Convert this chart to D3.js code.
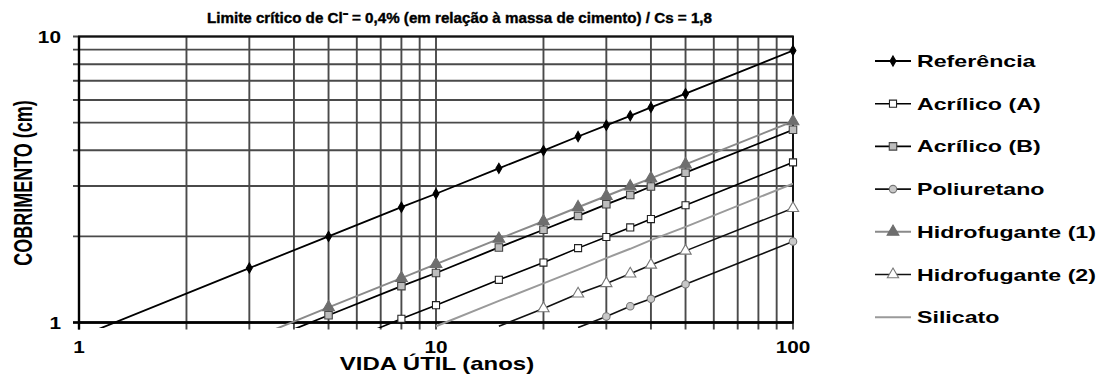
<!DOCTYPE html>
<html>
<head>
<meta charset="utf-8">
<script src="https://cdn.jsdelivr.net/npm/d3@7"></script>
<style>
  body { margin: 0; background: #fff; }
  text { font-family: "Liberation Sans", Arial, sans-serif; font-weight: bold; fill: #000; }
</style>
</head>
<body>
<div id="chart"></div>
<script>
// chart values
var titleText = "Limite crítico de Cl\u207B = 0,4% (em relação à massa de cimento) / Cs = 1,8";
var xLabel = "VIDA ÚTIL (anos)";
var yLabel = "COBRIMENTO (cm)";
var xTickLabels = [1, 10, 100];
var yTickLabels = [1, 10];

var seriesNames = ["Referência", "Acrílico (A)", "Acrílico (B)", "Poliuretano",
  "Hidrofugante (1)", "Hidrofugante (2)", "Silicato"];

var refYears = [1, 3, 5, 8, 10, 15, 20, 25, 30, 35, 40, 50, 100];
var refValues = [0.89, 1.55, 2.0, 2.53, 2.82, 3.46, 3.99, 4.47, 4.89, 5.28, 5.65, 6.31, 8.93];

var acrAYears = [5, 8, 10, 15, 20, 25, 30, 35, 40, 50, 100];
var acrAValues = [0.81, 1.03, 1.15, 1.41, 1.62, 1.82, 1.99, 2.15, 2.30, 2.57, 3.63];

var acrBYears = [3, 5, 8, 10, 15, 20, 25, 30, 35, 40, 50, 100];
var acrBValues = [0.82, 1.06, 1.34, 1.49, 1.83, 2.11, 2.36, 2.59, 2.79, 2.99, 3.34, 4.72];

var poliYears = [25, 30, 35, 40, 50, 100];
var poliValues = [0.96, 1.05, 1.14, 1.21, 1.36, 1.92];

var hidro1Years = [3, 5, 8, 10, 15, 20, 25, 30, 35, 40, 50, 100];
var hidro1Values = [0.87, 1.13, 1.43, 1.60, 1.96, 2.26, 2.53, 2.77, 2.99, 3.19, 3.57, 5.05];

var hidro2Years = [15, 20, 25, 30, 35, 40, 50, 100];
var hidro2Values = [0.97, 1.12, 1.26, 1.37, 1.48, 1.59, 1.78, 2.51];

var silYears = [10, 15, 20, 25, 30, 35, 40, 50, 100];
var silValues = [0.97, 1.19, 1.37, 1.53, 1.68, 1.81, 1.94, 2.16, 3.06];

// look of each series
var styles = [
  {line: "#000", width: 1.8, symbol: d3.symbolDiamond, size: 30, fill: "#000", stroke: "#000"},
  {line: "#000", width: 1.6, symbol: d3.symbolSquare, size: 50, fill: "#fff", stroke: "#222"},
  {line: "#000", width: 1.8, symbol: d3.symbolSquare, size: 56, fill: "#bdbdbd", stroke: "#444"},
  {line: "#111", width: 1.6, symbol: d3.symbolCircle, size: 44, fill: "#c8c8c8", stroke: "#777"},
  {line: "#8a8a8a", width: 2, symbol: d3.symbolTriangle, size: 60, fill: "#6e6e6e", stroke: "#6e6e6e"},
  {line: "#111", width: 1.6, symbol: d3.symbolTriangle, size: 55, fill: "#fff", stroke: "#777"},
  {line: "#9a9a9a", width: 2, symbol: null}
];

var series = [
  [refYears, refValues], [acrAYears, acrAValues], [acrBYears, acrBValues], [poliYears, poliValues],
  [hidro1Years, hidro1Values], [hidro2Years, hidro2Values], [silYears, silValues]
].map(function(s, i) {
  return {
    name: seriesNames[i],
    style: styles[i],
    points: s[0].map(function(t, j) { return {t: t, c: s[1][j]}; })
  };
});

var svgWidth = 1105;
var svgHeight = 375;
var plot = {left: 79, right: 793, top: 36.5, bottom: 322.5};

var svg = d3.select("#chart")
  .append("svg")
  .attr("width", svgWidth)
  .attr("height", svgHeight);

var xScale = d3.scaleLog().domain([1, 100]).range([plot.left, plot.right]);
var yScale = d3.scaleLog().domain([1, 10]).range([plot.bottom, plot.top]);

// grid lines, sticking out a little past the axes like tick marks
svg.append("g")
  .selectAll("line")
  .data(xScale.ticks())
  .enter()
  .append("line")
  .attr("x1", d => xScale(d))
  .attr("x2", d => xScale(d))
  .attr("y1", plot.top)
  .attr("y2", plot.bottom + 7)
  .attr("stroke", "#4a4a4a")
  .attr("stroke-width", 1.9);

svg.append("g")
  .selectAll("line")
  .data(yScale.ticks())
  .enter()
  .append("line")
  .attr("y1", d => yScale(d))
  .attr("y2", d => yScale(d))
  .attr("x1", plot.left - 6)
  .attr("x2", plot.right)
  .attr("stroke", "#4a4a4a")
  .attr("stroke-width", 1.9);

// plot frame
svg.append("rect")
  .attr("x", plot.left)
  .attr("y", plot.top)
  .attr("width", plot.right - plot.left)
  .attr("height", plot.bottom - plot.top)
  .attr("fill", "none")
  .attr("stroke", "#111")
  .attr("stroke-width", 2);

svg.append("line")
  .attr("x1", plot.left - 6).attr("x2", plot.right)
  .attr("y1", plot.bottom).attr("y2", plot.bottom)
  .attr("stroke", "#000").attr("stroke-width", 2.4);
svg.append("line")
  .attr("x1", plot.left).attr("x2", plot.left)
  .attr("y1", plot.top).attr("y2", plot.bottom + 7)
  .attr("stroke", "#000").attr("stroke-width", 2.4);

// clips: lines may run a few px under the bottom axis
var defs = svg.append("defs");
defs.append("clipPath").attr("id", "lineClip")
  .append("rect")
  .attr("x", plot.left).attr("y", plot.top)
  .attr("width", plot.right - plot.left)
  .attr("height", plot.bottom - plot.top + 5.5);
defs.append("clipPath").attr("id", "markClip")
  .append("rect")
  .attr("x", plot.left - 10).attr("y", plot.top - 10)
  .attr("width", plot.right - plot.left + 20)
  .attr("height", plot.bottom - plot.top + 14);

var line = d3.line()
  .x(d => xScale(d.t))
  .y(d => yScale(d.c));

var lineGroup = svg.append("g").attr("clip-path", "url(#lineClip)");
lineGroup.selectAll("path")
  .data(series)
  .enter()
  .append("path")
  .attr("d", d => line(d.points))
  .attr("fill", "none")
  .attr("stroke", d => d.style.line)
  .attr("stroke-width", d => d.style.width);

var markGroup = svg.append("g").attr("clip-path", "url(#markClip)");
series.forEach(function(s) {
  if (!s.style.symbol) return;
  var sym = d3.symbol().type(s.style.symbol).size(s.style.size);
  markGroup.append("g")
    .selectAll("path")
    .data(s.points.filter(p => p.c >= 1))
    .enter()
    .append("path")
    .attr("d", sym)
    .attr("transform", p => `translate(${xScale(p.t)},${yScale(p.c)})`)
    .attr("fill", s.style.fill)
    .attr("stroke", s.style.stroke)
    .attr("stroke-width", 1.1);
});

// the original picture is stretched sideways, so text is widened
function wideText(x, y, str, size, sx, anchor) {
  return svg.append("text")
    .attr("transform", `translate(${x},${y}) scale(${sx},1)`)
    .attr("text-anchor", anchor || "start")
    .style("font-size", size + "px")
    .text(str);
}

// tick labels
xTickLabels.forEach(function(v) {
  wideText(xScale(v), 353, v, 16, 1.3, "middle");
});
yTickLabels.forEach(function(v) {
  wideText(plot.left - 18, yScale(v) + 6, v, 16, 1.3, "end");
});

// axis titles
wideText(437, 370, xLabel, 17.5, 1.37, "middle");
svg.append("text")
  .attr("transform", "translate(32,183) scale(1.4,1) rotate(-90)")
  .attr("text-anchor", "middle")
  .style("font-size", "18px")
  .text(yLabel);

// chart title (condensed, heavy)
svg.append("text")
  .attr("x", 207)
  .attr("y", 23)
  .attr("textLength", 505)
  .attr("lengthAdjust", "spacingAndGlyphs")
  .style("font-size", "15px")
  .style("stroke", "#000")
  .style("stroke-width", 0.4)
  .text(titleText);

// legend
var legend = svg.append("g");
series.forEach(function(s, i) {
  var cy = 61 + i * 42.7;
  legend.append("line")
    .attr("x1", 875).attr("x2", 911)
    .attr("y1", cy).attr("y2", cy)
    .attr("stroke", s.style.line)
    .attr("stroke-width", s.style.width);
  if (s.style.symbol) {
    legend.append("path")
      .attr("d", d3.symbol().type(s.style.symbol).size(s.style.size)())
      .attr("transform", `translate(893,${cy})`)
      .attr("fill", s.style.fill)
      .attr("stroke", s.style.stroke)
      .attr("stroke-width", 1.1);
  }
  wideText(917, cy + 6, s.name, 16, 1.45);
});
</script>
</body>
</html>
